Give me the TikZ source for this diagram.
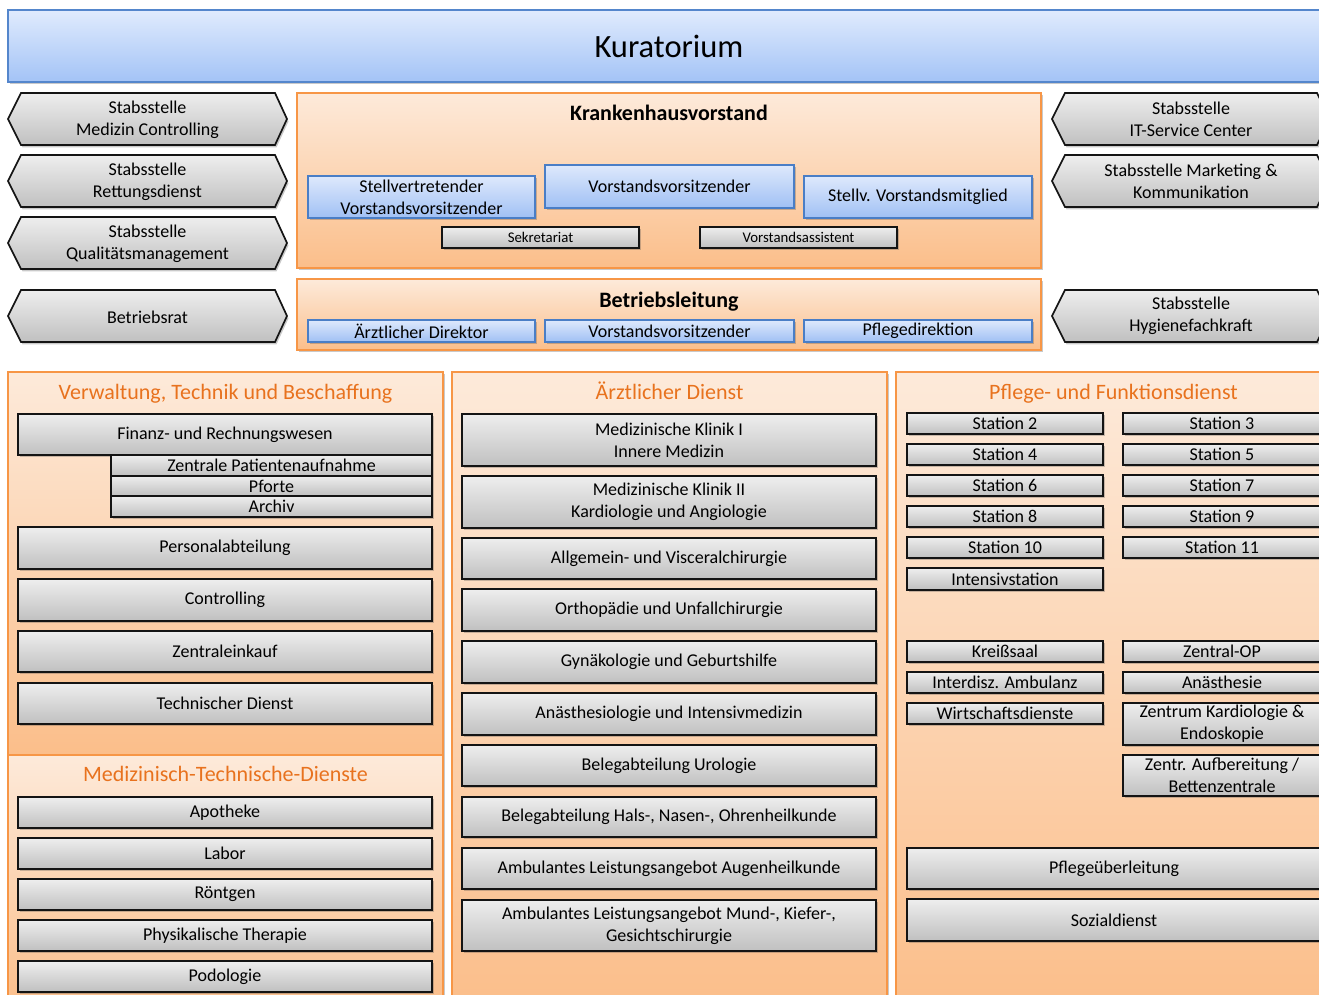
\documentclass[tikz,border=0pt]{standalone}
\usepackage{fontspec}
\setmainfont{Carlito}
\usetikzlibrary{shadows}
\definecolor{kTop}{RGB}{224,235,253}
\definecolor{kBot}{RGB}{163,195,246}
\definecolor{kBorder}{RGB}{84,134,204}
\definecolor{bTop}{RGB}{222,233,252}
\definecolor{bBot}{RGB}{160,192,244}
\definecolor{bBorder}{RGB}{74,126,198}
\definecolor{gTop}{RGB}{238,238,238}
\definecolor{gBot}{RGB}{192,192,192}
\definecolor{gBorder}{RGB}{20,20,20}
\definecolor{oTop}{RGB}{253,234,218}
\definecolor{oBot}{RGB}{251,190,138}
\definecolor{oBorder}{RGB}{247,150,70}
\definecolor{oText}{RGB}{232,114,30}
\newcommand\fsz{\fontsize{18}{22}\selectfont}
\newcommand\fsmall{\fontsize{14.8}{17}\selectfont}
\tikzset{
  shd/.style={drop shadow={opacity=0.3, fill=black!70, shadow xshift=1.5pt, shadow yshift=-2.5pt}},
  gbox/.style={shd, draw=gBorder, line width=1.7pt, top color=gTop, bottom color=gBot, inner sep=0pt, outer sep=0pt, align=center, font=\fsz},
  gsmall/.style={gbox, font=\fsmall},
  bbox/.style={shd, draw=bBorder, line width=1.6pt, top color=bTop, bottom color=bBot, inner sep=0pt, outer sep=0pt, align=center, font=\fsz},
  kbox/.style={shd, draw=kBorder, line width=1.4pt, top color=kTop, bottom color=kBot, inner sep=0pt, outer sep=0pt, font=\fontsize{32.5}{38}\selectfont},
  obox/.style={shd, draw=oBorder, line width=1.6pt, top color=oTop, bottom color=oBot, inner sep=0pt, outer sep=0pt},
  hexs/.style={shd, draw=gBorder, line width=1.7pt, top color=gTop, bottom color=gBot},
  htext/.style={align=center, font=\fsz, inner sep=0pt},
  btitle/.style={font=\fontsize{22}{26}\selectfont\bfseries, inner sep=0pt},
  otitle/.style={font=\fontsize{22}{26}\selectfont, text=oText, inner sep=0pt, anchor=base},
}
% name, x1, y1, x2, y2, style, text  (pixel coordinates, y downward)
\newcommand\mybox[7]{%
  \node[#6, minimum width={(#4-#2)*1pt}, minimum height={(#5-#3)*1pt}] (#1) at ({(#2+#4)/2},{995-(#3+#5)/2}) {#7};}
% left hexagon: name, y1, y2, text
\newcommand\hexL[4]{%
  \path[hexs] (8,{995-(#2+#3)/2}) -- (21,{995-#2}) -- (275,{995-#2}) -- (287,{995-(#2+#3)/2}) -- (275,{995-#3}) -- (21,{995-#3}) -- cycle;
  \node[htext] (#1) at (147.5,{995-(#2+#3)/2-1}) {#4};}
\newcommand\hexR[4]{%
  \path[hexs] (1052,{995-(#2+#3)/2}) -- (1065,{995-#2}) -- (1317,{995-#2}) -- (1330,{995-(#2+#3)/2}) -- (1317,{995-#3}) -- (1065,{995-#3}) -- cycle;
  \node[htext] (#1) at (1191,{995-(#2+#3)/2}) {#4};}
\begin{document}
\begin{tikzpicture}[x=1pt,y=1pt]
\useasboundingbox (0,0) rectangle (1319,995);
% Kuratorium
\mybox{kur}{8}{10}{1330}{82}{kbox}{Kuratorium}
% left staff positions
\hexL{smc}{93}{145}{Stabsstelle\\Medizin Controlling}
\hexL{srd}{155}{207}{Stabsstelle\\Rettungsdienst}
\hexL{sqm}{217}{269}{Stabsstelle\\Qualitätsmanagement}
\hexL{brat}{290}{342}{Betriebsrat}
% right staff positions
\hexR{sit}{93}{145}{Stabsstelle\\IT-Service Center}
\hexR{smk}{155}{207}{Stabsstelle Marketing \&\\Kommunikation}
\hexR{shy}{290}{342}{Stabsstelle\\Hygienefachkraft}
% Krankenhausvorstand
\mybox{kv}{297}{93}{1041}{268}{obox}{}
\node[btitle] (kvt) at (669,{995-113}) {Krankenhausvorstand};
\mybox{svv}{308}{176}{535}{218}{bbox}{Stellvertretender\\Vorstandsvorsitzender}
\mybox{vv}{545}{165}{794}{208}{bbox}{Vorstandsvorsitzender}
\mybox{svm}{804}{176}{1032}{218}{bbox}{Stellv. Vorstandsmitglied}
\mybox{sek}{442}{227}{639}{248}{gsmall}{Sekretariat}
\mybox{vas}{700}{227}{897}{248}{gsmall}{Vorstandsassistent}
% Betriebsleitung
\mybox{bl}{297}{279}{1041}{350}{obox}{}
\node[btitle] (blt) at (669,{995-301.5}) {Betriebsleitung};
\mybox{ad}{308}{320}{535}{342}{bbox}{Ärztlicher Direktor}
\mybox{vv2}{545}{320}{794}{342}{bbox}{Vorstandsvorsitzender}
\mybox{pd}{804}{320}{1032}{342}{bbox}{Pflegedirektion}
% columns
\mybox{c1}{8}{372}{443}{755}{obox}{}
\mybox{c1b}{8}{755}{443}{1010}{obox}{}
\mybox{c2}{452}{372}{887}{1010}{obox}{}
\mybox{c3}{896}{372}{1331}{1010}{obox}{}
\node[otitle] (t1) at (225.5,{995-400}) {Verwaltung, Technik und Beschaffung};
\node[otitle] (t1b) at (225.5,{995-782}) {Medizinisch-Technische-Dienste};
\node[otitle] (t2) at (669.5,{995-400}) {Ärztlicher Dienst};
\node[otitle] (t3) at (1113.5,{995-400}) {Pflege- und Funktionsdienst};
% column 1
\mybox{fin}{18}{414}{432}{455}{gbox}{Finanz- und Rechnungswesen}
\mybox{zpa}{111}{455}{432}{476}{gbox}{Zentrale Patientenaufnahme}
\mybox{pfo}{111}{476}{432}{496}{gbox}{Pforte}
\mybox{arc}{111}{496}{432}{517}{gbox}{Archiv}
\mybox{per}{18}{527}{432}{569}{gbox}{Personalabteilung}
\mybox{con}{18}{579}{432}{621}{gbox}{Controlling}
\mybox{zek}{18}{631}{432}{672}{gbox}{Zentraleinkauf}
\mybox{tdi}{18}{683}{432}{724}{gbox}{Technischer Dienst}
\mybox{apo}{18}{797}{432}{828}{gbox}{Apotheke}
\mybox{lab}{18}{838}{432}{869}{gbox}{Labor}
\mybox{roe}{18}{879}{432}{910}{gbox}{Röntgen}
\mybox{phy}{18}{920}{432}{951}{gbox}{Physikalische Therapie}
\mybox{pod}{18}{961}{432}{992}{gbox}{Podologie}
% column 2
\mybox{mk1}{462}{414}{876}{466}{gbox}{Medizinische Klinik I\\Innere Medizin}
\mybox{mk2}{462}{476}{876}{528}{gbox}{Medizinische Klinik II\\Kardiologie und Angiologie}
\mybox{avc}{462}{538}{876}{579}{gbox}{Allgemein- und Visceralchirurgie}
\mybox{ouc}{462}{589}{876}{631}{gbox}{Orthopädie und Unfallchirurgie}
\mybox{gyn}{462}{641}{876}{683}{gbox}{Gynäkologie und Geburtshilfe}
\mybox{ani}{462}{693}{876}{735}{gbox}{Anästhesiologie und Intensivmedizin}
\mybox{uro}{462}{745}{876}{786}{gbox}{Belegabteilung Urologie}
\mybox{hno}{462}{797}{876}{837}{gbox}{Belegabteilung Hals-, Nasen-, Ohrenheilkunde}
\mybox{aug}{462}{848}{876}{889}{gbox}{Ambulantes Leistungsangebot Augenheilkunde}
\mybox{mkg}{462}{900}{876}{951}{gbox}{Ambulantes Leistungsangebot Mund-, Kiefer-,\\Gesichtschirurgie}
% column 3
\mybox{st2}{907}{413}{1103}{434}{gbox}{Station 2}
\mybox{st3}{1123}{413}{1321}{434}{gbox}{Station 3}
\mybox{st4}{907}{444}{1103}{465}{gbox}{Station 4}
\mybox{st5}{1123}{444}{1321}{465}{gbox}{Station 5}
\mybox{st6}{907}{475}{1103}{496}{gbox}{Station 6}
\mybox{st7}{1123}{475}{1321}{496}{gbox}{Station 7}
\mybox{st8}{907}{506}{1103}{527}{gbox}{Station 8}
\mybox{st9}{1123}{506}{1321}{527}{gbox}{Station 9}
\mybox{st10}{907}{537}{1103}{558}{gbox}{Station 10}
\mybox{st11}{1123}{537}{1321}{558}{gbox}{Station 11}
\mybox{ints}{907}{568}{1103}{590}{gbox}{Intensivstation}
\mybox{krs}{907}{641}{1103}{662}{gbox}{Kreißsaal}
\mybox{zop}{1123}{641}{1321}{662}{gbox}{Zentral-OP}
\mybox{ida}{907}{672}{1103}{693}{gbox}{Interdisz. Ambulanz}
\mybox{ans}{1123}{672}{1321}{693}{gbox}{Anästhesie}
\mybox{wid}{907}{703}{1103}{724}{gbox}{Wirtschaftsdienste}
\mybox{zke}{1123}{703}{1321}{745}{gbox}{Zentrum Kardiologie \&\\Endoskopie}
\mybox{zab}{1123}{755}{1321}{796}{gbox}{Zentr. Aufbereitung /\\Bettenzentrale}
\mybox{pfu}{907}{848}{1321}{889}{gbox}{Pflegeüberleitung}
\mybox{soz}{907}{899}{1321}{941}{gbox}{Sozialdienst}
\end{tikzpicture}
\end{document}
